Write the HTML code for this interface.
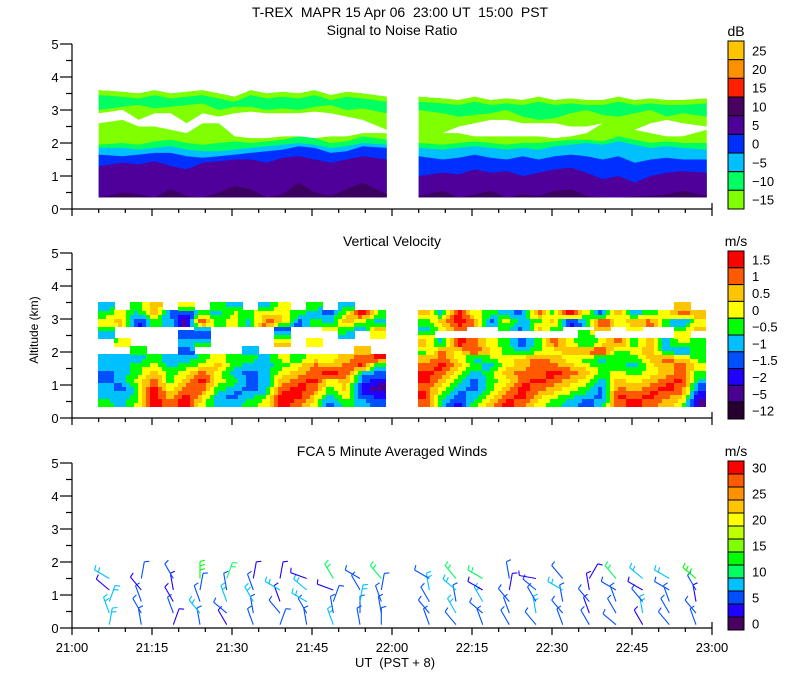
<!DOCTYPE html>
<html><head><meta charset="utf-8"><style>
html,body{margin:0;padding:0;background:#fff;}
svg{display:block;font-family:"Liberation Sans",sans-serif;}
</style></head><body>
<svg id="chart" width="800" height="700" viewBox="0 0 800 700" xmlns="http://www.w3.org/2000/svg">
<rect x="0" y="0" width="800" height="700" fill="#fff"/>
<text x="400" y="17" font-size="14" text-anchor="middle" xml:space="preserve">T-REX  MAPR 15 Apr 06  23:00 UT  15:00  PST</text>
<text x="392" y="35" font-size="14" text-anchor="middle">Signal to Noise Ratio</text>
<text x="392" y="246" font-size="14" text-anchor="middle">Vertical Velocity</text>
<text x="392" y="456" font-size="14" text-anchor="middle">FCA 5 Minute Averaged Winds</text>
<text x="0" y="0" font-size="12" text-anchor="middle" transform="translate(38,330) rotate(-90)">Altitude (km)</text>
<text x="395" y="667" font-size="13" text-anchor="middle" xml:space="preserve">UT  (PST + 8)</text>
<g id="layer"></g>
</svg>
<script>
// ---- shared axis data ----
const xTickLabels = ["21:00","21:15","21:30","21:45","22:00","22:15","22:30","22:45","23:00"];
const yTickLabels = ["0","1","2","3","4","5"];
// ---- SNR panel data (km), 36 columns (3-min), 18 per segment ----
const segStarts = [5, 65];
const snrTop     = [3.6,3.55,3.5,3.6,3.5,3.55,3.6,3.5,3.4,3.6,3.5,3.55,3.5,3.6,3.45,3.55,3.5,3.4, 3.4,3.35,3.3,3.4,3.3,3.35,3.3,3.4,3.3,3.35,3.3,3.3,3.4,3.3,3.35,3.3,3.3,3.35];
const snrBandLo  = [3.0,3.1,3.15,3.05,3.1,3.15,3.2,3.0,3.1,3.1,3.0,3.05,3.0,3.1,3.15,3.0,3.05,2.9, 3.0,2.9,2.8,2.85,2.9,3.0,2.8,2.7,2.75,2.9,3.0,2.85,2.8,2.9,3.0,2.8,2.9,2.8];
const snrGapHi   = [2.9,3.0,2.7,2.9,2.9,2.6,2.9,2.8,2.9,2.95,2.9,2.9,2.9,2.95,2.9,2.8,2.7,2.4, 2.6,2.3,2.5,2.6,2.7,2.7,2.6,2.6,2.6,2.5,2.5,2.6,2.4,2.4,2.6,2.7,2.6,2.5];
const snrGapLo   = [2.6,2.7,2.5,2.5,2.4,2.3,2.6,2.6,2.2,2.15,2.15,2.2,2.2,2.15,2.2,2.2,2.3,2.3, 2.6,2.3,2.3,2.2,2.2,2.2,2.2,2.2,2.15,2.2,2.3,2.6,2.4,2.4,2.3,2.2,2.2,2.4];
const snrGreen   = [1.95,2.0,1.95,2.05,2.1,2.0,1.95,2.0,2.05,2.0,2.05,2.1,2.2,2.15,2.0,2.05,2.2,2.1, 2.0,1.95,2.0,2.05,2.0,1.95,2.0,2.0,2.05,2.1,2.1,2.05,2.2,2.1,2.0,2.05,2.0,2.0];
const snrCyan    = [1.85,1.85,1.8,1.85,1.9,1.8,1.75,1.75,1.8,1.85,1.9,1.95,2.0,1.95,1.85,1.9,2.0,1.95, 1.85,1.8,1.85,1.9,1.85,1.8,1.85,1.8,1.9,1.95,2.0,1.95,2.05,1.95,1.85,1.9,1.85,1.8];
const snrBlue    = [1.65,1.6,1.65,1.7,1.7,1.6,1.55,1.6,1.65,1.7,1.75,1.8,1.9,1.85,1.7,1.75,1.9,1.85, 1.6,1.5,1.55,1.65,1.55,1.5,1.6,1.5,1.6,1.65,1.6,1.5,1.6,1.4,1.5,1.55,1.5,1.5];
const snrPurple  = [1.3,1.4,1.35,1.45,1.3,1.2,1.4,1.45,1.5,1.5,1.4,1.55,1.6,1.5,1.4,1.5,1.6,1.5, 1.0,1.1,1.05,1.2,1.1,1.15,1.0,1.1,1.2,1.25,1.1,0.9,1.0,0.8,1.0,1.1,1.15,1.1];
const snrDark    = [0.35,0.5,0.45,0.35,0.6,0.4,0.35,0.5,0.7,0.6,0.35,0.45,0.8,0.5,0.4,0.6,0.8,0.45, 0.4,0.55,0.35,0.45,0.55,0.35,0.45,0.4,0.55,0.6,0.4,0.35,0.35,0.38,0.4,0.45,0.55,0.4];
const snrCbarLabels = ["25","20","15","10","5","0","\u22125","\u221210","\u221215"];
const snrCbarColors = ["#ffc400","#ff9000","#ff2000","#4a0060","#50009a","#0030ff","#00c0ff","#00ff60","#80ff00"];
// ---- Vertical velocity grid (category index 0..9, '.' = missing); rows top->bottom ----
const velRowBase = 0.35, velRowStep = 0.225;
const velRows = [
 "4.57.6.54.46.5.4..|................7.",
 "564732546576543695|749654385963745687",
 "672541956487354764|579836457249678536",
 "5.....4....3..6547|468..5375..7.6..57",
 "4....33....5...4.6|6.........5.....6.",
 ".6...45....7.6....|749865358646857465",
 "..5..3...4......7.|586975456789567435",
 "444544565546566789|786456787654557875",
 "445645675445687894|897546788765546786",
 "345756864346789843|986457889875656785",
 "346857965347896732|975356898764767894",
 "435968854348985721|864357987653878983",
 "445979743459974632|953468976543989872",
 "546989644569863543|842579865434898761"];
const velCbarLabels = ["1.5","1","0.5","0","\u22120.5","\u22121","\u22121.5","\u22122","\u22125","\u221212"];
const velColors = ["#280030","#4a0090","#2000ff","#0050ff","#00c0ff","#00ff00","#ffff00","#ffc400","#ff5a00","#ff0000"];
// ---- Winds ----
const windColT = [7,13,19,24,29,34,39,44,49,54,58, 67,72,77,82,87,92,97,102,107,112,117];
const windLevels = [0.1,0.45,0.8,1.15,1.5];
const windSpd = [8,8,9,4,8, 5,5,6,3,5, 3,5,4,3,5, 7,8,5,6,13, 4,6,8,6,11, 5,6,8,6,4, 5,6,4,8,4, 6,7,8,9,3, 8,5,5,4,12, 5,5,8,6,6, 6,5,5,6,12,
                 5,6,5,8,6, 7,8,6,9,12, 5,7,9,3,11, 6,6,5,3,6, 5,8,6,5,4, 6,7,5,8,6, 5,4,6,4,3, 5,6,7,6,12, 4,8,5,3,9, 6,5,5,6,8, 6,5,4,6,13];
const windDir = [10,340,20,310,300, 350,330,340,320,10, 20,340,330,350,330, 350,320,340,10,0, 330,310,340,350,20, 340,350,330,340,10,
                 20,320,340,300,10, 350,330,300,310,290, 340,350,20,290,330, 350,0,10,330,300, 0,350,340,10,320,
                 340,320,330,350,300, 320,330,350,310,320, 340,310,330,300,300, 330,340,320,10,350, 320,350,330,310,280, 340,320,350,300,320,
                 330,340,320,350,30, 310,330,340,300,320, 330,350,320,300,310, 320,330,340,300,300, 340,320,350,330,310, 320,330,340,350,300];
const windCbarLabels = ["30","25","20","15","10","5","0"];
const windColors = ["#4a0060","#2000ff","#0050ff","#00c0ff","#00ff60","#00ff00","#80ff00","#c0ff00","#ffff00","#ffc400","#ff9000","#ff5a00","#ff0000"];

// ---- axis functions ----
const NS = "http://www.w3.org/2000/svg";
const layer = document.getElementById('layer');
const panelY0 = [209, 418, 628];
const KM = 33;
function xOf(min){ return 72 + min * 640 / 120; }
function yOf(p, km){ return panelY0[p] - km * KM; }
function mk(tag, attrs, parent){ const e = document.createElementNS(NS, tag); for (const k in attrs) e.setAttribute(k, attrs[k]); (parent||layer).appendChild(e); return e; }
function colT(i){ const s = i < 18 ? 0 : 1; const j = i % 18; return segStarts[s] + 3 * j + 1.5; }

// ---- SNR areas ----
function areaPath(lo, hi, seg){
  const idx = []; for (let j = 0; j < 18; j++) idx.push(seg * 18 + j);
  const x0 = xOf(segStarts[seg]), x1 = xOf(segStarts[seg] + 54);
  let top = idx.map((i,k) => [k===0?x0:(k===17?x1:xOf(colT(i))), yOf(0, typeof hi==='number'?hi:hi[i])]);
  let bot = idx.map((i,k) => [k===0?x0:(k===17?x1:xOf(colT(i))), yOf(0, typeof lo==='number'?lo:lo[i])]).reverse();
  return "M" + top.concat(bot).map(p => p[0].toFixed(1)+","+p[1].toFixed(1)).join(" L") + " Z";
}
const g1 = mk('g', {});


const snrLayers = [
  [0.35, snrTop, "#80ff00", "snr-lime"],
  [snrBandLo, snrTop, "#00ff60", "snr-upper-band"],
  [snrGapLo, snrGapHi, "#ffffff", "snr-clear-gap"],
  [0.35, snrGreen, "#00ff60", "snr-green"],
  [0.35, snrCyan, "#00c0ff", "snr-cyan"],
  [0.35, snrBlue, "#0030ff", "snr-blue"],
  [0.35, snrPurple, "#50009a", "snr-purple"],
  [0.35, snrDark, "#3c0060", "snr-dark"]];
for (const L of snrLayers){
  for (let s = 0; s < 2; s++){
    const p = mk('path', {d: areaPath(L[0], L[1], s), fill: L[2]}, g1);
    
    
  }
}
for (let s = 0; s < 2; s++){
  const p = mk('path', {d: areaPath(snrTop.map(v=>v-0.15), snrTop, s), fill: "#80ff00"}, g1);
  
  
}

// ---- Velocity grid (bilinear-smoothed, quantized) ----
const g2 = mk('g', {'shape-rendering': 'crispEdges'});


const nRows = velRows.length;
const grid = velRows.map(r => r.replace('|','').split('').map(ch => ch === '.' ? null : +ch));
function gv(r, c){ if (r < 0 || r >= nRows) return null; return grid[r][c]; }
const CELL = 4;
for (let s = 0; s < 2; s++){
  const xs = xOf(segStarts[s]), xe = xOf(segStarts[s] + 54);
  for (let x = xs; x < xe - 0.01; x += CELL){
    const tMin = (x + CELL/2 - 72) * 120 / 640;
    const fc = (tMin - segStarts[s]) / 3 - 0.5;
    for (let km = velRowBase; km < velRowBase + nRows * velRowStep - 0.001; km += CELL / KM){
      const kmC = km + CELL / KM / 2;
      const fr = (kmC - velRowBase) / velRowStep - 0.5;
      const rb = Math.round(fr), cb = Math.round(fc);
      const cN = Math.min(17, Math.max(0, cb)), rN = Math.min(nRows-1, Math.max(0, rb));
      const near = gv(nRows - 1 - rN, s*18 + cN);
      if (near === null) continue;
      const r0 = Math.floor(fr), c0 = Math.floor(fc);
      let sum = 0, wsum = 0;
      for (let dr = 0; dr < 2; dr++) for (let dc = 0; dc < 2; dc++){
        const rr = Math.min(nRows-1, Math.max(0, r0 + dr)), cc = Math.min(17, Math.max(0, c0 + dc));
        const v = gv(nRows - 1 - rr, s*18 + cc);
        if (v === null) continue;
        const w = (dr ? fr - r0 : 1 - (fr - r0)) * (dc ? fc - c0 : 1 - (fc - c0));
        sum += v * w; wsum += w;
      }
      const val = wsum > 0 ? Math.round(sum / wsum) : near;
      const yT = yOf(1, km) - CELL;
      const c = mk('rect', {x: Math.floor(x), y: Math.floor(yT), width: Math.ceil(Math.min(CELL + 1, xe - x)), height: CELL + 1, fill: velColors[Math.max(0, Math.min(9, val))]}, g2);
      
      
    }
  }
}

// ---- Wind barbs ----
const g3 = mk('g', {});


windColT.forEach((t, ci) => {
  windLevels.forEach((alt, li) => {
    const k = ci * windLevels.length + li;
    const spd = windSpd[k], dir = windDir[k];
    const col = windColors[Math.min(12, Math.floor(spd / 2.5))];
    const bx = xOf(t), by = yOf(2, alt);
    const a = dir * Math.PI / 180, L = 17;
    const ex = bx + Math.sin(a) * L, ey = by - Math.cos(a) * L;
    const g = mk('g', {stroke: col, 'stroke-width': 1.1, fill: 'none'}, g3);
    
    
    mk('line', {x1: bx.toFixed(1), y1: by.toFixed(1), x2: ex.toFixed(1), y2: ey.toFixed(1)}, g);
    const nb = Math.max(1, Math.round(spd / 5));
    for (let b = 0; b < nb; b++){
      const f = 1 - b * 0.25;
      const px = bx + Math.sin(a) * L * f, py = by - Math.cos(a) * L * f;
      const ba = a + Math.PI / 2.4;
      mk('line', {x1: px.toFixed(1), y1: py.toFixed(1), x2: (px + Math.sin(ba) * 5).toFixed(1), y2: (py - Math.cos(ba) * 5).toFixed(1)}, g);
    }
  });
});

// ---- Axes ----
for (let p = 0; p < 3; p++){
  const ax = mk('g', {stroke: '#000', 'stroke-width': 1.2});
  
  
  const y0 = panelY0[p];
  mk('line', {x1: 72, y1: y0, x2: 712, y2: y0}, ax);
  mk('line', {x1: 72, y1: y0, x2: 72, y2: yOf(p, 5)}, ax);
  mk('line', {x1: 712, y1: y0, x2: 712, y2: y0 - 6}, ax);
  for (let m = 0; m <= 120; m += 5){
    const major = m % 15 === 0;
    mk('line', {x1: xOf(m), y1: y0, x2: xOf(m), y2: y0 + (major ? 7 : 4)}, ax);
  }
  for (let h = 0; h <= 10; h++){
    const km = h / 2;
    mk('line', {x1: 72, y1: yOf(p, km), x2: 72 - (h % 2 === 0 ? 12 : 6), y2: yOf(p, km)}, ax);
  }
  yTickLabels.forEach((lab, i) => {
    const t = mk('text', {x: 55, y: yOf(p, i) + 5, 'font-size': 13, 'text-anchor': 'middle', stroke: 'none'});
    t.textContent = lab;
    
    
  });
}
xTickLabels.forEach((lab, i) => {
  const t = mk('text', {x: xOf(i * 15), y: 652, 'font-size': 13, 'text-anchor': 'middle'});
  t.textContent = lab;
  
  
});

// ---- Colorbars ----
function colorbar(name, unit, top, bottom, colors, labels, labelBoxes){
  const g = mk('g', {});
  
  
  const n = colors.length, h = (bottom - top) / n;
  colors.forEach((c, i) => {
    const r = mk('rect', {x: 728, y: (top + i*h).toFixed(1), width: 16, height: h.toFixed(1), fill: c, stroke: '#000', 'stroke-width': 1}, g);
    
    
  });
  labels.forEach((lab, i) => {
    const bi = labelBoxes[i];
    const t = mk('text', {x: 752, y: (top + bi*h + h*0.5 + 5).toFixed(1), 'font-size': 13}, g);
    t.textContent = lab;
    
    
  });
  const u = mk('text', {x: 736, y: top - 5, 'font-size': 14, 'text-anchor': 'middle'}, g);
  u.textContent = unit;
  
  
}
colorbar('snr-colorbar', 'dB', 41, 209, snrCbarColors, snrCbarLabels, [0,1,2,3,4,5,6,7,8]);
colorbar('velocity-colorbar', 'm/s', 251, 419, velColors.slice().reverse(), velCbarLabels, [0,1,2,3,4,5,6,7,8,9]);
colorbar('wind-colorbar', 'm/s', 461, 630, windColors.slice().reverse(), windCbarLabels, [0,2,4,6,8,10,12]);
</script>
</body></html>
